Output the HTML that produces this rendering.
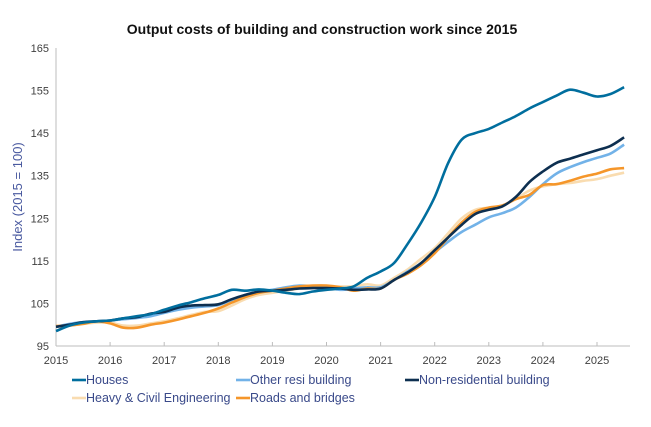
<!DOCTYPE html>
<html><head><meta charset="utf-8"><style>
body{margin:0;background:#fff;font-family:"Liberation Sans",sans-serif;}
</style></head><body>
<svg id="chart" width="651" height="422" xmlns="http://www.w3.org/2000/svg" font-family="Liberation Sans, sans-serif">
<text x="322" y="34" text-anchor="middle" font-size="14" font-weight="bold" fill="#111">Output costs of building and construction work since 2015</text>
<text transform="translate(22,197) rotate(-90)" text-anchor="middle" font-size="13" fill="#4a5aa0">Index (2015 = 100)</text>
<g id="axes"></g>
<g id="series"></g>
<g id="legend"></g>
</svg>
<script>
const yTicks=[95,105,115,125,135,145,155,165];
const xTicks=[2015,2016,2017,2018,2019,2020,2021,2022,2023,2024,2025];
const startYear=2015, step=0.25;
const houses=[98.5,99.8,100.5,100.8,101,101.5,102,102.5,103.5,104.5,105.3,106.2,107,108.2,108,108.3,108,107.5,107.2,107.8,108.2,108.5,109,111,112.5,114.5,119,124,130,138,143.5,145,146,147.5,149,150.8,152.3,153.8,155.2,154.5,153.6,154.2,155.8];
const otherResi=[99.5,100.2,100.6,100.8,101,101.3,101.6,102,102.8,103.5,104,104.3,104.6,105.8,107,107.8,108.2,108.8,109.2,109,108.8,108.2,108.5,108.8,108.8,110.5,112.5,114.5,117,119.5,121.8,123.5,125.2,126.2,127.5,130,133,135.5,137,138.2,139.2,140.2,142.3];
const nonRes=[99.5,100,100.6,100.8,101,101.5,101.8,102.6,103,104,104.5,104.6,104.8,106,107,107.8,108,108.2,108.5,108.6,108.6,108.5,108.2,108.3,108.5,110.5,112.3,114.5,117.5,120.5,123.5,126,127,127.8,130,133.5,136,138,139,140,141,142,144];
const heavyCivil=[99.5,99.8,100.2,100.5,100.5,99.8,99.8,100.3,100.8,101.5,102.3,103,103.2,104.5,106,107,107.5,108,108.5,109,109,109,109,109.5,109.2,111,113,115.5,118,121.5,125,127,127.5,128,129.5,131.5,132.5,133,133.3,133.8,134.2,135,135.7];
const roads=[99.7,99.8,100.2,100.8,100.3,99.3,99.3,100,100.5,101.2,102,102.8,103.8,105.2,106.5,107.5,108,108.5,109,109.2,109.2,108.8,108,108.5,108.5,110.5,112,114,116.8,120.5,124,126.5,127.5,128,129.5,130.5,132.8,133,133.8,134.8,135.5,136.5,136.8];
const seriesNames=["Houses","Other resi building","Non-residential building","Heavy & Civil Engineering","Roads and bridges"];

const NS="http://www.w3.org/2000/svg";
const X0=56,X1=597,Y0=346,Y1=48;
const xs=v=>X0+(v-2015)/(2025-2015)*(X1-X0);
const ys=v=>Y0-(v-95)/(165-95)*(Y0-Y1);
function mk(t,a,p){const e=document.createElementNS(NS,t);for(const k in a)e.setAttribute(k,a[k]);p.appendChild(e);return e;}
function smooth(pts){let d='M'+pts[0][0].toFixed(1)+','+pts[0][1].toFixed(1);
for(let i=0;i<pts.length-1;i++){const p0=pts[i-1]||pts[i],p1=pts[i],p2=pts[i+1],p3=pts[i+2]||p2;
const c1=[p1[0]+(p2[0]-p0[0])/6,p1[1]+(p2[1]-p0[1])/6],c2=[p2[0]-(p3[0]-p1[0])/6,p2[1]-(p3[1]-p1[1])/6];
d+=' C'+c1[0].toFixed(1)+','+c1[1].toFixed(1)+' '+c2[0].toFixed(1)+','+c2[1].toFixed(1)+' '+p2[0].toFixed(1)+','+p2[1].toFixed(1);}
return d;}
const axes=document.getElementById('axes');
const yl=mk('line',{x1:X0,y1:Y1,x2:X0,y2:Y0,stroke:'#bdbdbd','stroke-width':1},axes);


const xl=mk('line',{x1:X0,y1:Y0,x2:630,y2:Y0,stroke:'#bdbdbd','stroke-width':1},axes);


yTicks.forEach(v=>{const t=mk('text',{x:49,y:ys(v)+4,'text-anchor':'end','font-size':11,fill:'#404040'},axes);t.textContent=v;

});
xTicks.forEach(v=>{const tk=mk('line',{x1:xs(v),y1:Y0,x2:xs(v),y2:Y0-4,stroke:'#bdbdbd'},axes);


const t=mk('text',{x:xs(v),y:364,'text-anchor':'middle','font-size':11,fill:'#404040'},axes);t.textContent=v;

});
const data=[heavyCivil,otherResi,roads,nonRes,houses];
const cols=["#f9dcb0","#72b2e8","#f5962a","#0d2f50","#006e9e"];
const names=["series-heavy-civil","series-other-resi","series-roads-bridges","series-non-residential","series-houses"];
const sg=document.getElementById('series');
data.forEach((arr,k)=>{const pts=arr.map((v,i)=>[xs(startYear+i*step),ys(v)]);
const p=mk('path',{d:smooth(pts),fill:'none',stroke:cols[k],'stroke-width':2.6,'stroke-linejoin':'round'},sg);

});
const legCols=["#006e9e","#72b2e8","#0d2f50","#f9dcb0","#f5962a"];
const legPos=[[72,384],[236,384],[405,384],[72,402],[236,402]];
const lg=document.getElementById('legend');
seriesNames.forEach((n,i)=>{const [x,y]=legPos[i];
const g=mk('g',{},lg);


mk('line',{x1:x,y1:y-4,x2:x+14,y2:y-4,stroke:legCols[i],'stroke-width':2.6},g);
const t=mk('text',{x:x+14,y:y,'font-size':12.5,fill:'#3a4a8a'},g);t.textContent=n;});
</script>
</body></html>
